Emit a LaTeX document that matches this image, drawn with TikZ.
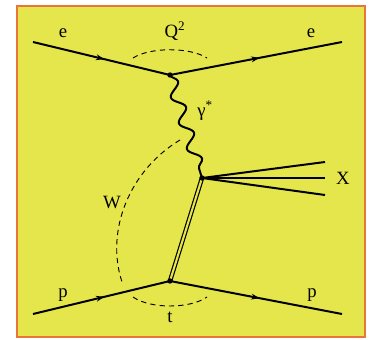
\documentclass[tikz,border=0pt]{standalone}
\usepackage{fontspec}
\setmainfont{Liberation Serif}
\usetikzlibrary{decorations.pathmorphing,decorations.markings,arrows.meta}
\definecolor{paneyellow}{RGB}{229,229,76}
\definecolor{paneorange}{RGB}{232,118,58}
\tikzset{
  fermion/.style={line width=1.7pt, draw=black, postaction={decorate},
    decoration={markings, mark=at position 0.52 with {\arrow{Stealth[length=7pt,width=5pt]}}}},
  plainleg/.style={line width=1.7pt, draw=black},
  photon/.style={line width=1.7pt, draw=black, decorate,
    decoration={snake, segment length=23pt, amplitude=5pt}},
  pomeron/.style={line width=1pt, draw=black, double=paneyellow, double distance=1.8pt},
  kinarc/.style={line width=0.8pt, draw=black, dash pattern=on 4.5pt off 3.5pt},
  vtx/.style={fill=black},
  kinlabel/.style={font=\fontsize{16}{19}\selectfont, inner sep=0pt},
}

\begin{document}
\begin{tikzpicture}[x=0.03cm, y=-0.03cm]
\useasboundingbox (0,0) rectangle (370,339);
\fill[white] (0,0) rectangle (370,339);
\fill[paneyellow] (17,6) rectangle (365,337);
\draw[paneorange, line width=1.7pt] (17,6) rectangle (365,337);
% vertices and leg ends
\coordinate (eIn) at (33,42);
\coordinate (eOut) at (342,42);
\coordinate (vTop) at (170,75);
\coordinate (vX) at (202,178);
\coordinate (vBot) at (170,281);
\coordinate (pIn) at (33,314);
\coordinate (pOut) at (342,314);
\coordinate (xHi) at (325,162);
\coordinate (xMid) at (325,178);
\coordinate (xLo) at (325,195);
\coordinate (qL) at (133,58);
\coordinate (qR) at (207,58);
\coordinate (tL) at (133,297);
\coordinate (tR) at (207,297);
\coordinate (wTop) at (180,140);
\coordinate (wBot) at (122,282);
% legs
\draw[fermion] (eIn) -- (vTop);
\draw[fermion] (vTop) -- (eOut);
\draw[fermion] (pIn) -- (vBot);
\draw[fermion] (vBot) -- (pOut);
\draw[photon] (vTop) -- (vX);
\draw[pomeron] (vX) -- (vBot);
\draw[plainleg] (vX) -- (xHi);
\draw[plainleg] (vX) -- (xMid);
\draw[plainleg] (vX) -- (xLo);
% kinematic arcs
\draw[kinarc] (qL) .. controls (150,47) and (190,47) .. (qR);
\draw[kinarc] (tL) .. controls (150,309) and (190,309) .. (tR);
\draw[kinarc] (wTop) .. controls (130,170) and (105,230) .. (wBot);
\fill[vtx] (vTop) circle (2.3pt);
\fill[vtx] (vX) circle (2.3pt);
\fill[vtx] (vBot) circle (2.3pt);
% labels
\node[kinlabel] (lblEin) at (63,33) {e};
\node[kinlabel] (lblQ) at (175,31) {Q\textsuperscript{2}};
\node[kinlabel] (lblEout) at (311,33) {e};
\node[kinlabel] (lblGam) at (205,111) {γ\textsuperscript{*}};
\node[kinlabel] (lblX) at (343,178) {X};
\node[kinlabel] (lblW) at (112,203) {W};
\node[kinlabel] (lblPin) at (63,295) {p};
\node[kinlabel] (lblPout) at (312,295) {p};
\node[kinlabel] (lblT) at (170,317) {t};
\end{tikzpicture}
\end{document}
